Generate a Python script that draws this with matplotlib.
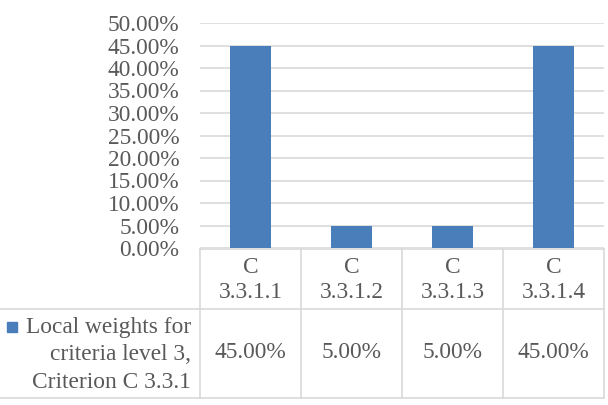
import matplotlib
matplotlib.use("Agg")
import matplotlib.pyplot as plt
from matplotlib.patches import Rectangle
from matplotlib.lines import Line2D
from matplotlib.transforms import blended_transform_factory

categories = ["C 3.3.1.1", "C 3.3.1.2", "C 3.3.1.3", "C 3.3.1.4"]
weights = [0.45, 0.05, 0.05, 0.45]
series_name = "Local weights for\ncriteria level 3,\nCriterion C 3.3.1"
yticks = [0.0, 0.05, 0.10, 0.15, 0.20, 0.25, 0.30, 0.35, 0.40, 0.45, 0.50]

W, H = 608, 405
BAR_C = "#4a7ebb"
TXT_C = "#595959"
GRID_C = "#d9d9d9"
FS = 16.8

plt.rcParams["font.family"] = ["Liberation Serif", "DejaVu Serif"]

fig = plt.figure(figsize=(W / 100, H / 100), dpi=100)


def fx(px):
    return px / W


def fy(py):
    return 1 - py / H


# plot area (pixels): x 200-604, y 23 (50%) to 248 (0%)
ax = fig.add_axes([fx(200), fy(248), fx(604) - fx(200), fy(23) - fy(248)])
x = list(range(len(categories)))
ax.bar(x, weights, width=0.4, color=BAR_C, zorder=3)
ax.set_xlim(-0.5, len(categories) - 0.5)
ax.set_ylim(0, 0.5)
ax.set_yticks(yticks)
ax.set_yticklabels([f"{v * 100:.2f}%" for v in yticks])
ax.tick_params(axis="y", length=0, pad=15, labelsize=FS, labelcolor=TXT_C)
ax.set_xticks([])
for s in ax.spines.values():
    s.set_visible(False)
ax.grid(True, axis="y", color=GRID_C, linewidth=1.2, zorder=0)

# ---- data table below the plot ----
lc = GRID_C
lw = 1.2
tf = fig.transFigure
# horizontal lines
fig.add_artist(Line2D([fx(200), fx(604)], [fy(249), fy(249)], color=lc, lw=lw, transform=tf))
fig.add_artist(Line2D([fx(0), fx(604)], [fy(309), fy(309)], color=lc, lw=lw, transform=tf))
fig.add_artist(Line2D([fx(0), fx(604)], [fy(398), fy(398)], color=lc, lw=lw, transform=tf))
# vertical lines at category boundaries
bt = blended_transform_factory(ax.transData, tf)
for b in [i - 0.5 for i in range(len(categories) + 1)]:
    fig.add_artist(Line2D([b, b], [fy(249), fy(398)], color=lc, lw=lw, transform=bt))

# header: category labels
for i, c in enumerate(categories):
    fig.text(i, fy(280), c.replace(" ", "\n"), transform=bt, ha="center", va="center",
             fontsize=FS, color=TXT_C, linespacing=1.3)
    fig.text(i, fy(353), f"{weights[i] * 100:.2f}%", transform=bt, ha="center",
             va="center", fontsize=FS, color=TXT_C)

# row header: legend key + series name
fig.text(fx(191), fy(355), series_name, ha="right", va="center", fontsize=FS,
         color=TXT_C, multialignment="right", linespacing=1.42)
fig.add_artist(Rectangle((fx(7), fy(332)), fx(10), fy(322) - fy(332), color=BAR_C,
                         transform=tf))

fig.savefig("out.png", dpi=100)
